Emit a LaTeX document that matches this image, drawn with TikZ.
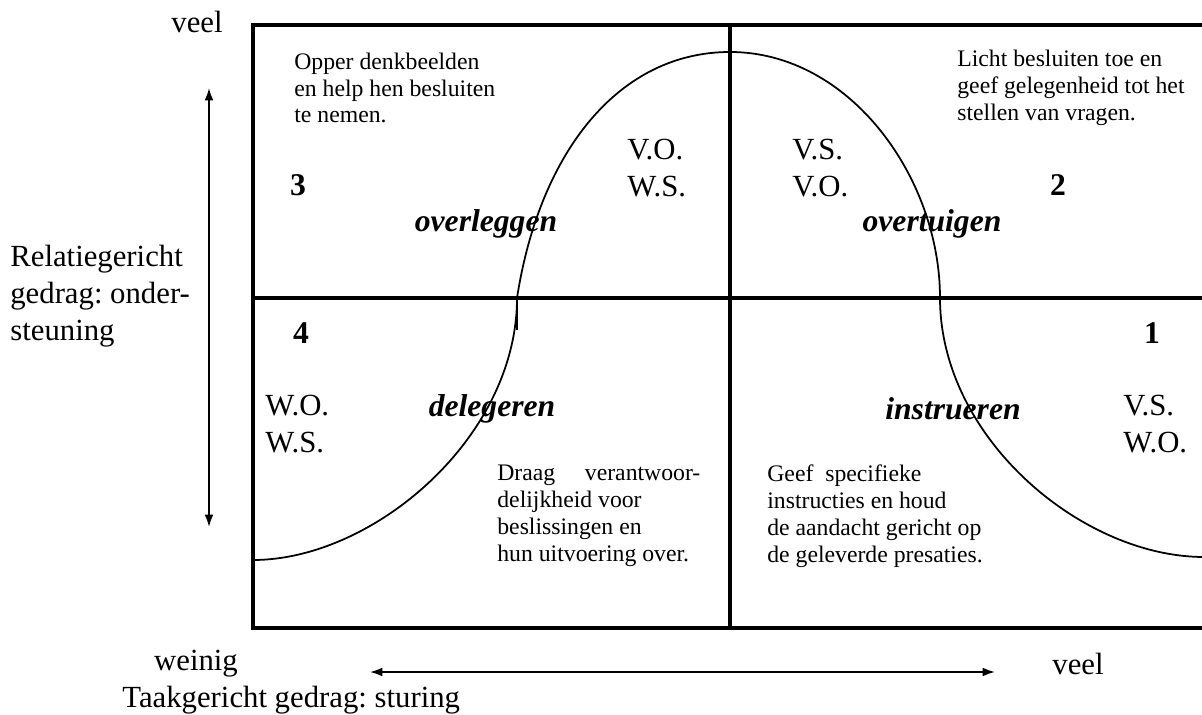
\documentclass[tikz,border=0pt]{standalone}
\usepackage{fontspec}
\setmainfont{Liberation Serif}
\usetikzlibrary{arrows.meta}
\frenchspacing

\begin{document}
\begin{tikzpicture}[x=0.02cm, y=-0.02cm,
  big/.style={font=\fontsize{17.5}{21}\selectfont, align=left, inner sep=0pt},
  small/.style={font=\fontsize{13.5}{15.3}\selectfont, align=left, inner sep=0pt},
  stijl/.style={font=\fontsize{18}{21}\selectfont\bfseries\itshape, inner sep=0pt},
  nr/.style={font=\fontsize{18}{21}\selectfont\bfseries, inner sep=0pt},
  pijl/.style={{Latex[length=7pt,width=5pt]}-{Latex[length=7pt,width=5pt]}, line width=1pt}]
\useasboundingbox (0,0) rectangle (1202,715);

% kader en kwadranten
\draw[line width=1.8pt] (1204,25) -- (253,25) -- (253,628) -- (1204,628);
\draw[line width=1.8pt] (730,25) -- (730,628);
\draw[line width=1.8pt] (253,298) -- (1204,298);

% klokcurve
\draw[line width=1pt] (253,560) .. controls (373,560) and (517,438) .. (517,298)
  .. controls (540,150) and (620,52) .. (730,52)
  .. controls (850,52) and (940,178) .. (940,298)
  .. controls (940,438) and (1082,557) .. (1204,557);
\draw[line width=1.6pt] (517,298) -- (517,330);

% assen
\node[big] (veelTop) at (197,22) {veel};
\node[big, anchor=west] (relatie) at (10,296) {Relatiegericht\\gedrag: onder-\\steuning};
\coordinate (vBoven) at (209,88);
\coordinate (vOnder) at (209,527);
\draw[pijl] (vBoven) -- (vOnder);

\node[big] (weinig) at (196,664) {weinig};
\node[big] (veelRechts) at (1078,664) {veel};
\node[big, anchor=west] (taak) at (122,700) {Taakgericht gedrag: sturing};
\coordinate (hLinks) at (370,672);
\coordinate (hRechts) at (995,672);
\draw[pijl] (hLinks) -- (hRechts);

% kwadrant 3
\node[small, anchor=west] (tekst3) at (294,88) {Opper denkbeelden\\en help hen besluiten\\te nemen.};
\node[nr] (nr3) at (298,185) {3};
\node[big, anchor=west] (code3) at (627,168) {V.O.\\W.S.};
\node[stijl] (overleggen) at (486,224) {overleggen};

% kwadrant 2
\node[small, anchor=west] (tekst2) at (957,88) {Licht besluiten toe en\\geef gelegenheid tot het\\stellen van vragen.};
\node[nr] (nr2) at (1058,185) {2};
\node[big, anchor=west] (code2) at (792,168) {V.S.\\V.O.};
\node[stijl] (overtuigen) at (932,224) {overtuigen};

% kwadrant 4
\node[nr] (nr4) at (301,333) {4};
\node[big, anchor=west] (code4) at (265,424) {W.O.\\W.S.};
\node[stijl] (delegeren) at (492,409) {delegeren};
\node[small, anchor=west] (tekst4) at (497,516) {Draag\quad\ verantwoor-\\delijkheid voor\\beslissingen en\\hun uitvoering over.};

% kwadrant 1
\node[nr] (nr1) at (1152,333) {1};
\node[big, anchor=west] (code1) at (1123,424) {V.S.\\W.O.};
\node[stijl] (instrueren) at (953,409) {instrueren};
\node[small, anchor=west] (tekst1) at (767,516) {Geef\ \ specifieke\\instructies en houd\\de aandacht gericht op\\de geleverde presaties.};
\end{tikzpicture}
\end{document}
